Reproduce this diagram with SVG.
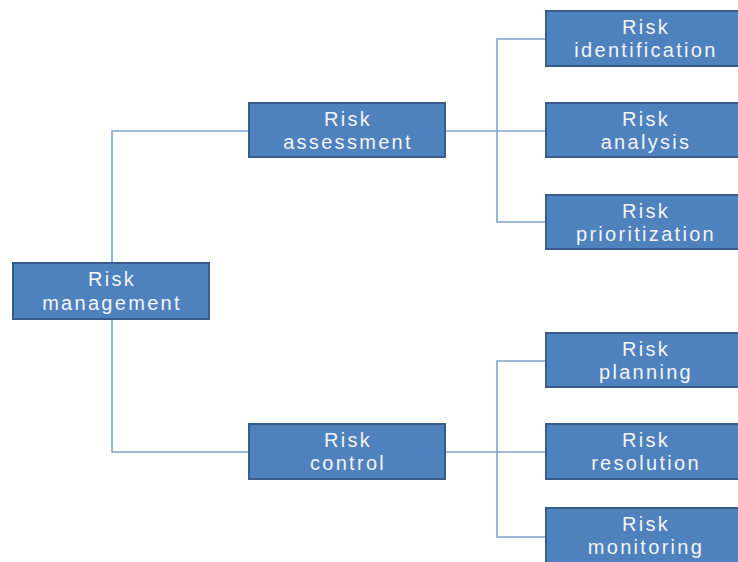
<svg xmlns="http://www.w3.org/2000/svg" width="738" height="562" viewBox="0 0 738 562">
<style>
.box{fill:#4F81BD;stroke:#385D8A;stroke-width:2}
.t{font-family:"Liberation Sans",Arimo,sans-serif;font-size:20px;letter-spacing:2.3px;fill:#F2F5FA;text-anchor:middle}
.c{fill:none;stroke:#7FA3D1;stroke-width:1.6}
</style>
<rect width="738" height="562" fill="#FFFFFF"/>
<g id="connectors">
<path class="c" d="M112 263 V131 H249"/>
<path class="c" d="M112 319 V452 H249"/>
<path class="c" d="M445 131 H546"/>
<path class="c" d="M546 39 H497 V222 H546"/>
<path class="c" d="M445 452 H546"/>
<path class="c" d="M546 361 H497 V537 H546"/>
</g>
<g id="risk-management"><rect class="box" x="13" y="263" width="196" height="56"/><text class="t" x="112" y="286">Risk</text><text class="t" x="112" y="310">management</text></g>
<g id="risk-assessment"><rect class="box" x="249" y="103" width="196" height="54"/><text class="t" x="348" y="126">Risk</text><text class="t" x="348" y="149">assessment</text></g>
<g id="risk-control"><rect class="box" x="249" y="424" width="196" height="55"/><text class="t" x="348" y="447">Risk</text><text class="t" x="348" y="470">control</text></g>
<g id="risk-identification"><rect class="box" x="546" y="11" width="198" height="55"/><text class="t" x="646" y="34">Risk</text><text class="t" x="646" y="57">identification</text></g>
<g id="risk-analysis"><rect class="box" x="546" y="103" width="198" height="54"/><text class="t" x="646" y="126">Risk</text><text class="t" x="646" y="149">analysis</text></g>
<g id="risk-prioritization"><rect class="box" x="546" y="195" width="198" height="54"/><text class="t" x="646" y="218">Risk</text><text class="t" x="646" y="241">prioritization</text></g>
<g id="risk-planning"><rect class="box" x="546" y="333" width="198" height="54"/><text class="t" x="646" y="356">Risk</text><text class="t" x="646" y="379">planning</text></g>
<g id="risk-resolution"><rect class="box" x="546" y="424" width="198" height="55"/><text class="t" x="646" y="447">Risk</text><text class="t" x="646" y="470">resolution</text></g>
<g id="risk-monitoring"><rect class="box" x="546" y="508" width="198" height="60"/><text class="t" x="646" y="531">Risk</text><text class="t" x="646" y="554">monitoring</text></g>
</svg>
